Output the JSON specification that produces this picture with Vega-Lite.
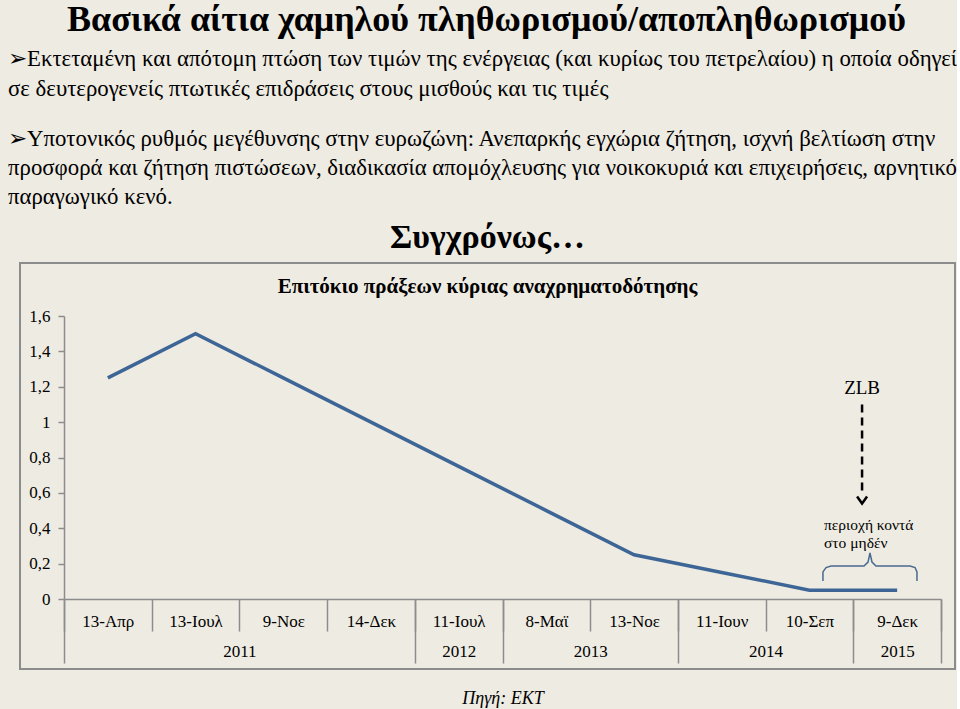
{
  "$schema": "https://vega.github.io/schema/vega-lite/v6.json",
  "background": "#EEEBE2",
  "padding": {"left": 8, "top": 2, "right": 0, "bottom": 0},
  "config": {"font": "Liberation Serif", "view": {"stroke": null}},
  "title": {
    "text": "Βασικά αίτια χαμηλού πληθωρισμού/αποπληθωρισμού",
    "anchor": "middle",
    "dx": 4,
    "font": "Liberation Serif",
    "fontSize": 36,
    "fontWeight": "bold",
    "color": "#000000",
    "offset": 9
  },
  "spacing": 2,
  "vconcat": [
    {
      "width": 935,
      "height": 44,
      "view": {"stroke": null},
      "title": {
        "text": [
          "➢Εκτεταμένη και απότομη πτώση των τιμών της ενέργειας (και κυρίως του πετρελαίου) η οποία οδηγεί",
          "σε δευτερογενείς πτωτικές επιδράσεις στους μισθούς και τις τιμές"
        ],
        "subtitle": [
          "➢Υποτονικός ρυθμός μεγέθυνσης στην ευρωζώνη: Ανεπαρκής εγχώρια ζήτηση, ισχνή βελτίωση στην",
          "προσφορά και ζήτηση πιστώσεων, διαδικασία απομόχλευσης για νοικοκυριά και επιχειρήσεις, αρνητικό",
          "παραγωγικό κενό."
        ],
        "anchor": "start",
        "dx": -12,
        "font": "Liberation Serif",
        "fontSize": 22.8,
        "fontWeight": "normal",
        "lineHeight": 30,
        "color": "#000000",
        "subtitleFont": "Liberation Serif",
        "subtitleFontSize": 22.8,
        "subtitleLineHeight": 29,
        "subtitleColor": "#000000",
        "subtitlePadding": 27,
        "offset": 7
      },
      "data": {"values": [{"t": "Συγχρόνως…"}]},
      "mark": {"type": "text", "font": "Liberation Serif", "fontSize": 34, "fontWeight": "bold", "color": "#000000"},
      "encoding": {"text": {"field": "t", "type": "nominal"}}
    },
    {
      "width": 935,
      "height": 406,
      "view": {"stroke": "#8C8C8C", "strokeWidth": 2},
      "title": {
        "text": "Επιτόκιο πράξεων κύριας αναχρηματοδότησης",
        "anchor": "middle",
        "offset": -34,
        "font": "Liberation Serif",
        "fontSize": 21,
        "fontWeight": "bold",
        "color": "#000000"
      },
      "resolve": {"scale": {"x": "independent"}, "axis": {"x": "independent"}},
      "layer": [
        {
          "data": {"values": [
            {"date": "13-Απρ", "rate": 1.25},
            {"date": "13-Ιουλ", "rate": 1.5},
            {"date": "9-Noε", "rate": 1.25},
            {"date": "14-Δεκ", "rate": 1.0},
            {"date": "11-Ιουλ", "rate": 0.75},
            {"date": "8-Μαϊ", "rate": 0.5},
            {"date": "13-Noε", "rate": 0.25},
            {"date": "11-Ιουν", "rate": 0.15},
            {"date": "10-Σεπ", "rate": 0.05},
            {"date": "9-Δεκ", "rate": 0.05}
          ]},
          "mark": {"type": "line", "color": "#3D6697", "strokeWidth": 3.5},
          "encoding": {
            "x": {
              "field": "date", "type": "ordinal", "sort": null,
              "scale": {"type": "band", "range": [44, 921], "paddingInner": 0, "paddingOuter": 0},
              "axis": {
                "orient": "bottom", "offset": -70, "title": null,
                "tickBand": "extent", "tickSize": 32, "tickColor": "#8C8C8C", "tickWidth": 1.5,
                "domainColor": "#8C8C8C", "domainWidth": 1.5,
                "labelAngle": 0, "labelFont": "Liberation Serif", "labelFontSize": 17, "labelColor": "#000000",
                "labelPadding": -18, "labelOverlap": false, "grid": false
              }
            },
            "y": {
              "field": "rate", "type": "quantitative", "title": null,
              "scale": {"domain": [0, 1.6], "range": [336, 53], "nice": false, "zero": false},
              "axis": {
                "orient": "left", "offset": -44, "title": null,
                "values": [0, 0.2, 0.4, 0.6, 0.8, 1, 1.2, 1.4, 1.6],
                "tickSize": 6, "tickColor": "#8C8C8C", "tickWidth": 1.5,
                "domainColor": "#8C8C8C", "domainWidth": 1.5,
                "labelExpr": "replace(format(datum.value, '.1~f'), '.', ',')",
                "labelFont": "Liberation Serif", "labelFontSize": 17, "labelColor": "#000000",
                "labelPadding": 8, "grid": false
              }
            }
          }
        },
        {
          "data": {"values": [{"x": 9.1, "y": 1.16, "t": "ZLB"}]},
          "mark": {"type": "text", "font": "Liberation Serif", "fontSize": 19, "color": "#000000", "baseline": "alphabetic"},
          "encoding": {
            "x": {
              "field": "x", "type": "quantitative",
              "scale": {"domain": [0, 10], "range": [44, 921], "nice": false, "zero": false},
              "axis": {
                "orient": "bottom", "offset": -70,
                "values": [0, 2, 4, 4.5, 5, 6, 7, 8, 9, 9.5, 10],
                "tickSize": 64, "tickColor": "#8C8C8C", "tickWidth": 1.5,
                "tickOpacity": {"condition": {"test": "indexof([0, 4, 5, 7, 9, 10], datum.value) >= 0", "value": 1}, "value": 0},
                "domain": false, "grid": false,
                "labelExpr": "datum.value == 2 ? '2011' : datum.value == 4.5 ? '2012' : datum.value == 6 ? '2013' : datum.value == 8 ? '2014' : datum.value == 9.5 ? '2015' : ''",
                "labelFont": "Liberation Serif", "labelFontSize": 17, "labelColor": "#000000",
                "labelPadding": -20, "labelOverlap": false, "labelFlush": false, "labelBound": false,
                "title": "Πηγή: ΕΚΤ", "titleFont": "Liberation Serif", "titleFontStyle": "italic",
                "titleFontWeight": "normal", "titleFontSize": 18, "titleColor": "#000000", "titlePadding": 26
              }
            },
            "y": {"field": "y", "type": "quantitative", "title": null, "scale": {"domain": [0, 1.6], "range": [336, 53], "nice": false, "zero": false}},
            "text": {"field": "t", "type": "nominal"}
          }
        },
        {
          "data": {"values": [{"x": 9.1, "y": 1.1, "y2": 0.6}]},
          "mark": {"type": "rule", "strokeDash": [8, 5], "strokeWidth": 2.5, "color": "#000000"},
          "encoding": {
            "x": {"field": "x", "type": "quantitative", "axis": null, "scale": {"domain": [0, 10], "range": [44, 921], "nice": false, "zero": false}},
            "y": {"field": "y", "type": "quantitative", "title": null, "scale": {"domain": [0, 1.6], "range": [336, 53], "nice": false, "zero": false}},
            "y2": {"field": "y2"}
          }
        },
        {
          "data": {"values": [{"x": 9.1, "y": 0.54}]},
          "mark": {"type": "point", "shape": "M-1,-1.4L0,0L1,-1.4", "filled": false, "stroke": "#000000", "strokeWidth": 2.5, "size": 100, "opacity": 1},
          "encoding": {
            "x": {"field": "x", "type": "quantitative", "axis": null, "scale": {"domain": [0, 10], "range": [44, 921], "nice": false, "zero": false}},
            "y": {"field": "y", "type": "quantitative", "title": null, "scale": {"domain": [0, 1.6], "range": [336, 53], "nice": false, "zero": false}}
          }
        },
        {
          "data": {"values": [
            {"x": 8.666, "y": 0.39, "t": "περιοχή κοντά"},
            {"x": 8.666, "y": 0.288, "t": "στο μηδέν"}
          ]},
          "mark": {"type": "text", "font": "Liberation Serif", "fontSize": 15.5, "color": "#000000", "align": "left", "baseline": "alphabetic"},
          "encoding": {
            "x": {"field": "x", "type": "quantitative", "axis": null, "scale": {"domain": [0, 10], "range": [44, 921], "nice": false, "zero": false}},
            "y": {"field": "y", "type": "quantitative", "title": null, "scale": {"domain": [0, 1.6], "range": [336, 53], "nice": false, "zero": false}},
            "text": {"field": "t", "type": "nominal"}
          }
        },
        {
          "data": {"values": [
            {"i": 1, "x": 8.654, "y": 0.102},
            {"i": 2, "x": 8.654, "y": 0.153},
            {"i": 3, "x": 8.689, "y": 0.178},
            {"i": 4, "x": 8.746, "y": 0.187},
            {"i": 5, "x": 9.122, "y": 0.187},
            {"i": 6, "x": 9.168, "y": 0.209},
            {"i": 7, "x": 9.19, "y": 0.26},
            {"i": 8, "x": 9.213, "y": 0.209},
            {"i": 9, "x": 9.259, "y": 0.187},
            {"i": 10, "x": 9.647, "y": 0.187},
            {"i": 11, "x": 9.704, "y": 0.178},
            {"i": 12, "x": 9.726, "y": 0.153},
            {"i": 13, "x": 9.726, "y": 0.102}
          ]},
          "mark": {"type": "line", "color": "#4A6A8E", "strokeWidth": 1.5},
          "encoding": {
            "x": {"field": "x", "type": "quantitative", "axis": null, "scale": {"domain": [0, 10], "range": [44, 921], "nice": false, "zero": false}},
            "y": {"field": "y", "type": "quantitative", "title": null, "scale": {"domain": [0, 1.6], "range": [336, 53], "nice": false, "zero": false}},
            "order": {"field": "i", "type": "quantitative"}
          }
        }
      ]
    }
  ]
}
